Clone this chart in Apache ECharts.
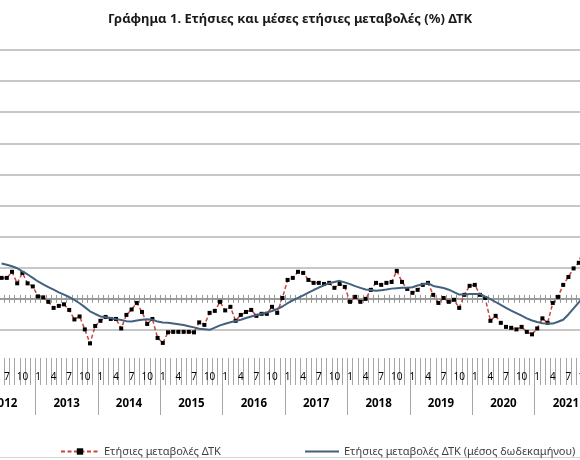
<!DOCTYPE html>
<html>
<head>
<meta charset="utf-8">
<script src="https://cdn.jsdelivr.net/npm/echarts@6/dist/echarts.min.js"></script>
<style>
  html, body { margin: 0; padding: 0; background: #fff; }
  #chart { width: 580px; height: 460px; }
</style>
</head>
<body>
<div id="chart"></div>
<script>
// monthly values, Jun 2012 .. Oct 2021 (%)
const startYear = 2012
const startMonth = 6

const annualChange = [
  1.35, 1.35, 1.74, 1.00, 1.67, 1.00, 0.80,
  0.16, 0.10, -0.19, -0.58, -0.45, -0.35, -0.71, -1.32, -1.13, -1.96, -2.86, -1.74,
  -1.41, -1.16, -1.29, -1.29, -1.90, -1.03, -0.68, -0.26, -0.84, -1.61, -1.29, -2.51,
  -2.83, -2.15, -2.12, -2.12, -2.12, -2.12, -2.15, -1.51, -1.67, -0.90, -0.77, -0.19,
  -0.74, -0.51, -1.41, -1.03, -0.84, -0.71, -1.09, -0.96, -0.96, -0.51, -0.90, 0.06,
  1.22, 1.35, 1.74, 1.67, 1.22, 1.03, 1.03, 0.96, 1.03, 0.71, 0.96, 0.77,
  -0.19, 0.13, -0.19, 0.00, 0.58, 1.03, 0.90, 1.03, 1.09, 1.80, 1.09, 0.64,
  0.39, 0.58, 0.90, 1.03, 0.26, -0.26, 0.06, -0.19, -0.06, -0.58, 0.26, 0.84,
  0.90, 0.26, 0.06, -1.41, -1.09, -1.54, -1.80, -1.86, -1.96, -1.80, -2.12, -2.28,
  -1.90, -1.25, -1.54, -0.26, 0.13, 0.90, 1.41, 1.96, 2.32, 3.41
]

const avgChange = [
  2.28, 2.19, 2.10, 1.97, 1.77, 1.57, 1.35,
  1.12, 0.93, 0.76, 0.59, 0.42, 0.27, 0.12, -0.07, -0.28, -0.53, -0.80, -0.97,
  -1.13, -1.18, -1.23, -1.30, -1.36, -1.43, -1.46, -1.39, -1.34, -1.31, -1.34, -1.46,
  -1.52, -1.54, -1.58, -1.63, -1.68, -1.76, -1.83, -1.92, -1.95, -1.99, -1.85, -1.70,
  -1.60, -1.50, -1.42, -1.34, -1.23, -1.13, -1.04, -0.95, -0.87, -0.78, -0.65, -0.49,
  -0.28, -0.10, 0.06, 0.23, 0.40, 0.57, 0.73, 0.87, 1.01, 1.09, 1.16, 1.06,
  0.95, 0.82, 0.71, 0.60, 0.57, 0.52, 0.56, 0.60, 0.66, 0.69, 0.71, 0.71,
  0.75, 0.86, 0.94, 1.01, 0.83, 0.77, 0.70, 0.59, 0.44, 0.28, 0.28, 0.32,
  0.32, 0.32, 0.15, -0.01, -0.20, -0.39, -0.57, -0.75, -0.91, -1.08, -1.25, -1.39,
  -1.49, -1.56, -1.59, -1.59, -1.47, -1.34, -1.00, -0.61, -0.22, 0.19
]

const monthTicks = [1, 4, 7, 10]
const yMin = -2, yMax = 16, yStep = 2
const names = ['Ετήσιες μεταβολές ΔΤΚ', 'Ετήσιες μεταβολές ΔΤΚ (μέσος δωδεκαμήνου)']
const titleText = 'Γράφημα 1. Ετήσιες και μέσες ετήσιες μεταβολές (%) ΔΤΚ'

const cats = []
for (let i = 0; i < annualChange.length; i++) {
  const n = startMonth - 1 + i
  cats.push((startYear + Math.floor(n / 12)) + '-' + (n % 12 + 1))
}
const monthOf = c => +String(c).split('-')[1]
const yearOf = c => String(c).split('-')[0]

const font = 'Noto Sans, Open Sans, sans-serif'
const axisGrey = '#9a9a9a'
const avgColor = '#41617f'
const bandW = 5.2

const chart = echarts.init(document.getElementById('chart'))
chart.setOption({
  animation: false,
  textStyle: { fontFamily: font },
  title: {
    text: titleText, left: 'center', top: 8,
    textStyle: { fontSize: 13, fontWeight: 'bold', color: '#1a1a1a', fontFamily: font }
  },
  legend: [
    {
      data: [names[0]], left: 55, top: 441, itemWidth: 38, itemHeight: 8,
      textStyle: { fontSize: 11, color: '#404040' }
    },
    {
      data: [{ name: names[1], icon: 'rect' }], left: 300, top: 441, itemWidth: 34, itemHeight: 2,
      textStyle: { fontSize: 11, color: '#404040' }
    }
  ],
  grid: {
    left: -1, width: cats.length * bandW, top: 50, height: 280,
    outerBoundsMode: 'none', containLabel: false
  },
  yAxis: [
    {
      type: 'value', min: yMin, max: yMax, interval: yStep,
      axisLabel: { show: false }, axisLine: { show: false }, axisTick: { show: false },
      splitLine: { lineStyle: { color: '#b4b4b4', width: 1.5 } }
    },
    {
      type: 'value', min: yMin, max: yMax, interval: yStep,
      axisLabel: { show: false }, axisLine: { show: false }, axisTick: { show: false },
      splitLine: { show: false }
    }
  ],
  xAxis: [
    {
      type: 'category', data: cats,
      axisLine: { show: true, onZero: true, lineStyle: { color: axisGrey, width: 1.5 } },
      axisTick: { show: true, interval: 0, length: 4, lineStyle: { color: axisGrey } },
      axisLabel: { show: false }
    },
    {
      type: 'category', data: cats, position: 'bottom',
      axisLine: { show: true, onZero: true, onZeroAxisIndex: 1, lineStyle: { color: axisGrey, width: 1.5 } },
      axisTick: { show: true, interval: 0, inside: true, length: 4, lineStyle: { color: axisGrey } },
      axisLabel: { show: false }
    },
    {
      type: 'category', data: cats, position: 'bottom', offset: 28,
      axisLine: { show: false, onZero: false },
      axisTick: { show: true, interval: 0, length: 27, lineStyle: { color: '#a6a6a6' } },
      axisLabel: {
        interval: 0, margin: 14, fontSize: 10, color: '#000',
        formatter: v => monthTicks.includes(monthOf(v)) ? String(monthOf(v)) : ''
      }
    },
    {
      type: 'category', data: cats, position: 'bottom', offset: 28,
      axisLine: { show: false, onZero: false },
      axisTick: { show: true, interval: (i, v) => monthOf(v) === 1, length: 57, lineStyle: { color: '#a6a6a6' } },
      axisLabel: {
        interval: (i, v) => monthOf(v) === 7, margin: 40, fontSize: 11.5, fontWeight: 'bold',
        color: '#000', padding: [0, bandW, 0, 0], formatter: v => yearOf(v)
      }
    }
  ],
  graphic: [
    { type: 'line', shape: { x1: 0, y1: 457.5, x2: 580, y2: 457.5 }, style: { stroke: '#d4d4d4', lineWidth: 1 } }
  ],
  series: [
    {
      name: names[0], type: 'line', data: annualChange, clip: false,
      symbol: 'rect', symbolSize: 4, showAllSymbol: true,
      itemStyle: { color: '#000' },
      lineStyle: { color: '#c9463d', width: 1.5, type: [4, 2.5] },
      z: 2
    },
    {
      name: names[1], type: 'line', data: avgChange, clip: false,
      symbol: 'none',
      itemStyle: { color: avgColor },
      lineStyle: { color: avgColor, width: 2 },
      z: 3
    }
  ]
})
</script>
</body>
</html>
